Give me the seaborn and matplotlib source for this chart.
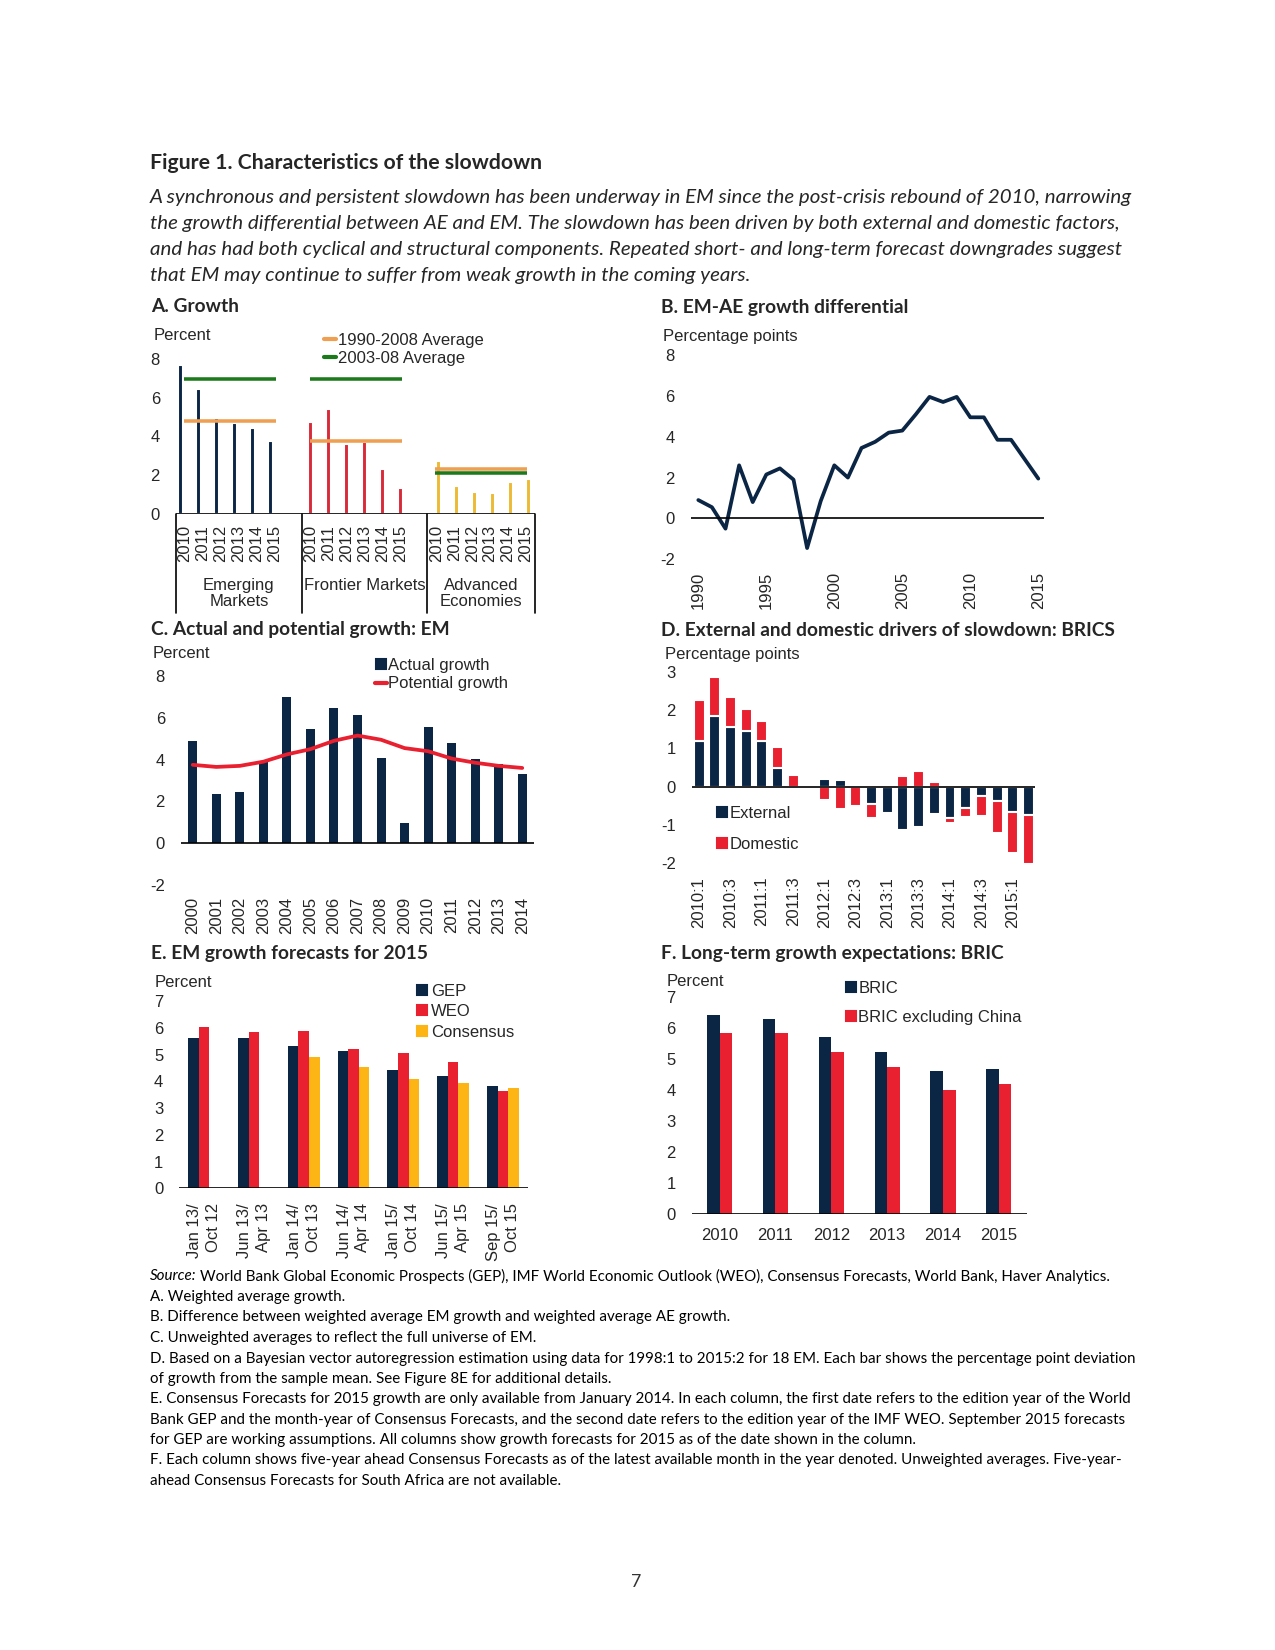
import numpy as np
import pandas as pd
import seaborn as sns
import matplotlib.pyplot as plt
from matplotlib.lines import Line2D
from matplotlib.transforms import blended_transform_factory

# -----------------------------------------------------------------------------
# Data
# -----------------------------------------------------------------------------
years_a = ["2010", "2011", "2012", "2013", "2014", "2015"]
groups_a = ["Emerging\nMarkets", "Frontier Markets", "Advanced\nEconomies"]
growth_em = [7.7, 6.45, 4.95, 4.7, 4.45, 3.75]
growth_fm = [4.75, 5.4, 3.6, 3.7, 2.3, 1.35]
growth_ae = [2.75, 1.45, 1.1, 1.05, 1.65, 1.8]
avg_1990_2008 = [4.8, 3.75, 2.3]
avg_2003_08 = [7.0, 7.0, 2.1]

years_b = list(range(1990, 2016))
diff_b = [0.9, 0.55, -0.5, 2.6, 0.8, 2.15, 2.45, 1.9, -1.45, 0.85,
          2.6, 2.0, 3.45, 3.75, 4.2, 4.3, 5.1, 5.95, 5.7, 5.95,
          4.95, 4.95, 3.85, 3.85, 2.9, 1.95]

years_c = [str(y) for y in range(2000, 2015)]
actual_c = [4.9, 2.35, 2.45, 3.9, 7.0, 5.45, 6.45, 6.15, 4.1, 0.95, 5.55, 4.8, 4.05, 3.8, 3.3]
potential_c = [3.75, 3.65, 3.7, 3.9, 4.25, 4.5, 4.9, 5.15, 4.95, 4.55, 4.4, 4.05, 3.85, 3.7, 3.6]

quarters_d = [f"{y}:{q}" for y in range(2010, 2016) for q in range(1, 5)][:22]
external_d = [1.2, 1.85, 1.55, 1.45, 1.2, 0.5, -0.05, 0.0, 0.2, 0.17, 0.03,
              -0.45, -0.7, -1.13, -1.04, -0.72, -0.83, -0.55, -0.24, -0.37, -0.65, -0.74]
domestic_d = [1.07, 1.0, 0.8, 0.57, 0.52, 0.54, 0.3, 0.02, -0.35, -0.58, -0.5,
              -0.37, 0.0, 0.28, 0.41, 0.13, -0.11, -0.23, -0.52, -0.83, -1.09, -1.29]

editions_e = ["Jan 13/\nOct 12", "Jun 13/\nApr 13", "Jan 14/\nOct 13", "Jun 14/\nApr 14",
              "Jan 15/\nOct 14", "Jun 15/\nApr 15", "Sep 15/\nOct 15"]
gep_e = [5.62, 5.62, 5.32, 5.12, 4.42, 4.18, 3.82]
weo_e = [6.03, 5.84, 5.89, 5.19, 5.06, 4.73, 3.64]
consensus_e = [np.nan, np.nan, 4.91, 4.55, 4.1, 3.94, 3.74]

years_f = ["2010", "2011", "2012", "2013", "2014", "2015"]
bric_f = [6.44, 6.31, 5.72, 5.24, 4.63, 4.67]
bric_ex_china_f = [5.85, 5.85, 5.23, 4.76, 3.99, 4.2]

# -----------------------------------------------------------------------------
# Texts
# -----------------------------------------------------------------------------
titulo = "Figure 1. Characteristics of the slowdown"
parrafo = [
    "A synchronous and persistent slowdown has been underway in EM since the post-crisis rebound of 2010, narrowing",
    "the growth differential between AE and EM. The slowdown has been driven by both external and domestic factors,",
    "and has had both cyclical and structural components. Repeated short- and long-term forecast downgrades suggest",
    "that EM may continue to suffer from weak growth in the coming years.",
]
notas = [
    "World Bank Global Economic Prospects (GEP), IMF World Economic Outlook (WEO), Consensus Forecasts, World Bank, Haver Analytics.",
    "A. Weighted average growth.",
    "B. Difference between weighted average EM growth and weighted average AE growth.",
    "C. Unweighted averages to reflect the full universe of EM.",
    "D. Based on a Bayesian vector autoregression estimation using data for 1998:1 to 2015:2 for 18 EM. Each bar shows the percentage point deviation",
    "of growth from the sample mean. See Figure 8E for additional details.",
    "E. Consensus Forecasts for 2015 growth are only available from January 2014. In each column, the first date refers to the edition year of the World",
    "Bank GEP and the month-year of Consensus Forecasts, and the second date refers to the edition year of the IMF WEO. September 2015 forecasts",
    "for GEP are working assumptions. All columns show growth forecasts for 2015 as of the date shown in the column.",
    "F. Each column shows five-year ahead Consensus Forecasts as of the latest available month in the year denoted. Unweighted averages. Five-year-",
    "ahead Consensus Forecasts for South Africa are not available.",
]

# -----------------------------------------------------------------------------
# Style
# -----------------------------------------------------------------------------
NAVY = "#0B2545"
RED = "#E8202F"
RED_A = "#D92A3A"
GOLD_A = "#EDBA34"
YELLOW = "#FDB515"
ORANGE = "#EE9F52"
GREEN = "#1C7A1C"
TXT = "#262626"

sns.set_theme(style="white")
plt.rcParams["font.family"] = ["Liberation Sans", "DejaVu Sans"]
plt.rcParams["font.size"] = 8
plt.rcParams["axes.unicode_minus"] = False
BODY = ["Lato", "DejaVu Sans"]

W, H = 1275, 1650
fig = plt.figure(figsize=(8.5, 11), dpi=150)
renderer = fig.canvas.get_renderer()


def axes_px(left, top, right, bottom):
    return fig.add_axes([left / W, 1 - bottom / H, (right - left) / W, (bottom - top) / H])


def texto(x, y, s, **kw):
    kw.setdefault("family", BODY)
    kw.setdefault("va", "center")
    return fig.text(x / W, 1 - y / H, s, **kw)


def ajustar(t, ancho):
    bb = t.get_window_extent(renderer=renderer)
    size = t.get_fontsize() * ancho / bb.width
    t.set_fontsize(size)
    return size


def estilo(ax, xpad=5.5):
    sns.despine(ax=ax, left=True, bottom=True)
    ax.tick_params(axis="both", length=0, labelsize=8, colors=TXT)
    ax.tick_params(axis="y", pad=7.7)
    ax.tick_params(axis="x", pad=xpad)
    ax.set_xlabel("")
    ax.set_ylabel("")
    ax.grid(False)


def leyenda(ax, handles, labels, left, top, **kw):
    return ax.legend(handles, labels, loc="upper left",
                     bbox_to_anchor=(left / W, 1 - top / H), bbox_transform=fig.transFigure,
                     frameon=False, borderpad=0, borderaxespad=0, fontsize=8, **kw)


def cuadro(color):
    return Line2D([], [], marker="s", color=color, markersize=4.5, linestyle="none")


# -----------------------------------------------------------------------------
# Header text
# -----------------------------------------------------------------------------
t = texto(150, 163, titulo, fontweight="bold", fontsize=11)
ajustar(t, 391)

lineas = [texto(150, y, s, style="italic", fontsize=10) for y, s in zip([198, 223, 249, 275], parrafo)]
size_p = ajustar(lineas[0], 983)
for l in lineas[1:]:
    l.set_fontsize(size_p)

paneles = [
    (150.7, 307, "A. Growth"), (660.7, 307, "B. EM-AE growth differential"),
    (150.7, 630, "C. Actual and potential growth: EM"),
    (660.7, 630, "D. External and domestic drivers of slowdown: BRICS"),
    (150.7, 953, "E. EM growth forecasts for 2015"),
    (660.7, 953, "F. Long-term growth expectations: BRIC"),
]
tits = [texto(x, y, s, fontweight="bold", fontsize=10) for x, y, s in paneles]
size_t = ajustar(tits[3], 456)
for tt in tits:
    tt.set_fontsize(size_t)

# -----------------------------------------------------------------------------
# A. Growth
# -----------------------------------------------------------------------------
axA = axes_px(176, 359.3, 535, 513.7)
em_x = np.arange(6)
fm_x = em_x + 7
ae_x = em_x + 14
axA.bar(em_x - 0.24, growth_em, width=0.28, color=NAVY)
axA.bar(fm_x, growth_fm, width=0.28, color=RED_A)
axA.bar(ae_x + 0.15, growth_ae, width=0.28, color=GOLD_A)
for i, start in enumerate([0, 7, 14]):
    axA.hlines(avg_1990_2008[i], start - 0.05, start + 5.07, color=ORANGE, lw=1.7, zorder=3)
    axA.hlines(avg_2003_08[i], start - 0.05, start + 5.07, color=GREEN, lw=1.7, zorder=3)
axA.axhline(0, color="black", lw=0.8)
axA.set_xlim(-0.5, 19.5)
axA.set_ylim(0, 8)
axA.set_yticks([0, 2, 4, 6, 8])
axA.set_xticks(np.concatenate([em_x, fm_x, ae_x]))
axA.set_xticklabels(years_a * 3, rotation=90)
estilo(axA, xpad=5.3)
trans = blended_transform_factory(axA.transData, axA.transAxes)
for xb in [-0.5, 6.5, 13.5, 19.5]:
    axA.plot([xb, xb], [0, -0.643], transform=trans, color="black", lw=0.8, clip_on=False)
for centro, nombre in zip([3, 10, 16.5], groups_a):
    axA.text(centro, -0.415, nombre, transform=trans, ha="center", va="top",
             fontsize=8, linespacing=1.1, color=TXT)
leyenda(axA, [Line2D([], [], color=ORANGE, lw=2), Line2D([], [], color=GREEN, lw=2)],
        ["1990-2008 Average", "2003-08 Average"], 324, 333,
        handlelength=0.75, handletextpad=0.1, labelspacing=0.2)
texto(154, 336, "Percent", family=["Liberation Sans"], fontsize=8, color=TXT)

# -----------------------------------------------------------------------------
# B. EM-AE growth differential
# -----------------------------------------------------------------------------
axB = axes_px(690.7, 355, 1044, 559.3)
sns.lineplot(x=years_b, y=diff_b, ax=axB, color=NAVY, lw=1.8)
axB.axhline(0, color="black", lw=0.8)
axB.set_xlim(1989.44, 2015.42)
axB.set_ylim(-2, 8)
axB.set_yticks(range(-2, 9, 2))
axB.set_xticks(range(1990, 2016, 5))
axB.set_xticklabels([str(y) for y in range(1990, 2016, 5)], rotation=90)
estilo(axB, xpad=6)
texto(663, 336, "Percentage points", family=["Liberation Sans"], fontsize=8, color=TXT)

# -----------------------------------------------------------------------------
# C. Actual and potential growth: EM
# -----------------------------------------------------------------------------
axC = axes_px(181, 676, 534, 885)
sns.barplot(x=years_c, y=actual_c, ax=axC, color=NAVY, saturation=1, width=0.38,
            errorbar=None, linewidth=0)
axC.plot(np.arange(len(years_c)), potential_c, color=RED, lw=1.8)
axC.axhline(0, color="black", lw=0.8)
axC.set_xlim(-0.5, 14.5)
axC.set_ylim(-2, 8)
axC.set_yticks(range(-2, 9, 2))
axC.set_xticks(range(len(years_c)))
axC.set_xticklabels(years_c, rotation=90)
estilo(axC, xpad=5.6)
leyenda(axC, [cuadro(NAVY), Line2D([], [], color=RED, lw=2)],
        ["Actual growth", "Potential growth"], 375, 658,
        handlelength=0.7, handletextpad=0.05, labelspacing=0.2)
texto(152.7, 654, "Percent", family=["Liberation Sans"], fontsize=8, color=TXT)

# -----------------------------------------------------------------------------
# D. External and domestic drivers: BRICS
# -----------------------------------------------------------------------------
axD = axes_px(691.7, 671.7, 1035, 863.3)
xd = np.arange(len(quarters_d))
ext = np.array(external_d)
dom = np.array(domestic_d)
base_dom = np.where(dom >= 0, np.clip(ext, 0, None), np.clip(ext, None, 0))
axD.bar(xd, ext, width=0.7, color=NAVY)
axD.bar(xd, dom, bottom=base_dom, width=0.7, color=RED)
axD.axhline(0, color="black", lw=0.8)
axD.set_xlim(-0.47, 21.42)
axD.set_ylim(-2, 3)
axD.set_yticks(range(-2, 4))
axD.set_xticks(xd[::2])
axD.set_xticklabels(quarters_d[::2], rotation=90)
estilo(axD, xpad=6.4)
leyenda(axD, [cuadro(NAVY), cuadro(RED)], ["External", "Domestic"], 716.5, 806,
        handlelength=0.6, handletextpad=0.17, labelspacing=0.96)
texto(665, 655, "Percentage points", family=["Liberation Sans"], fontsize=8, color=TXT)

# -----------------------------------------------------------------------------
# E. EM growth forecasts for 2015
# -----------------------------------------------------------------------------
axE = axes_px(179.3, 1001, 527.7, 1188.3)
df_e = pd.DataFrame({
    "edition": editions_e * 3,
    "source": ["GEP"] * 7 + ["WEO"] * 7 + ["Consensus"] * 7,
    "value": gep_e + weo_e + consensus_e,
})
sns.barplot(data=df_e, x="edition", y="value", hue="source", ax=axE,
            palette=[NAVY, RED, YELLOW], saturation=1, width=0.64,
            errorbar=None, linewidth=0, legend=False)
axE.axhline(0, color="black", lw=0.8)
axE.set_xlim(-0.5, 6.5)
axE.set_ylim(0, 7)
axE.set_yticks(range(0, 8))
axE.set_xticks(range(len(editions_e)))
axE.set_xticklabels(editions_e, rotation=90, multialignment="right", linespacing=1.3)
estilo(axE, xpad=7.2)
leyenda(axE, [cuadro(NAVY), cuadro(RED), cuadro(YELLOW)], ["GEP", "WEO", "Consensus"],
        417.3, 984, handlelength=0.6, handletextpad=0.22, labelspacing=0.32)
texto(155, 982.7, "Percent", family=["Liberation Sans"], fontsize=8, color=TXT)

# -----------------------------------------------------------------------------
# F. Long-term growth expectations: BRIC
# -----------------------------------------------------------------------------
axF = axes_px(691.7, 997.3, 1026.7, 1214)
df_f = pd.DataFrame({
    "year": years_f * 2,
    "group": ["BRIC"] * 6 + ["BRIC excluding China"] * 6,
    "value": bric_f + bric_ex_china_f,
})
sns.barplot(data=df_f, x="year", y="value", hue="group", ax=axF,
            palette=[NAVY, RED], saturation=1, width=0.45,
            errorbar=None, linewidth=0, legend=False)
axF.axhline(0, color="black", lw=0.8)
axF.set_xlim(-0.5, 5.5)
axF.set_ylim(0, 7)
axF.set_yticks(range(0, 8))
estilo(axF, xpad=6.5)
leyenda(axF, [cuadro(NAVY), cuadro(RED)], ["BRIC", "BRIC excluding China"], 845.8, 981,
        handlelength=0.6, handletextpad=0.15, labelspacing=0.82)
texto(666.7, 981.7, "Percent", family=["Liberation Sans"], fontsize=8, color=TXT)

# -----------------------------------------------------------------------------
# Notes
# -----------------------------------------------------------------------------
ys_notas = [1276, 1297, 1317, 1338, 1359, 1379, 1399, 1420, 1440, 1460, 1481]
objs = [texto(150, y, s, fontsize=8, color="black") for y, s in zip(ys_notas, notas)]
size_n = ajustar(objs[4], 982)
for o in objs:
    o.set_fontsize(size_n)
fuente = texto(150, ys_notas[0], "Source:", style="italic", fontsize=size_n, color="black")
ancho_fuente = fuente.get_window_extent(renderer=renderer).width
objs[0].set_x((150 + ancho_fuente + size_n * 0.25 * 150 / 72) / W)

texto(636.5, 1582, "7", ha="center", fontsize=8.5, color="#333333")

fig.savefig("out.png", dpi=150)
